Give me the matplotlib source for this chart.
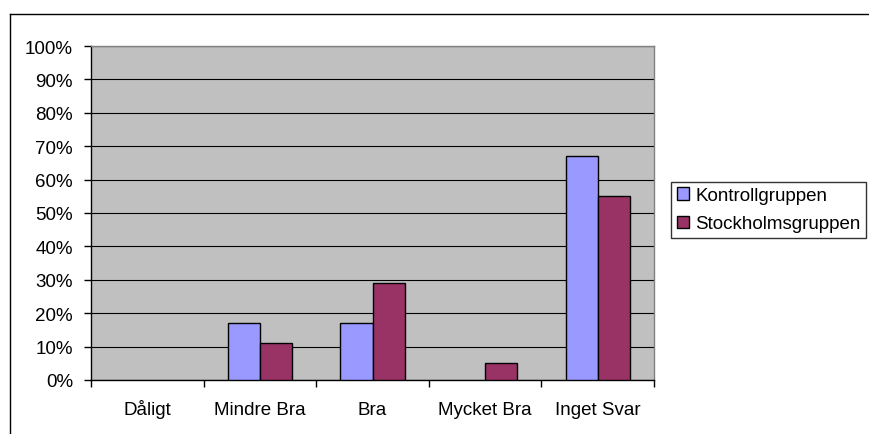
import matplotlib
matplotlib.use("Agg")
import matplotlib.pyplot as plt
import numpy as np
from matplotlib.lines import Line2D
from matplotlib.patches import Patch

categories = ["Dåligt", "Mindre Bra", "Bra", "Mycket Bra", "Inget Svar"]
kontroll = [0, 17, 17, 0, 67]
stockholm = [0, 11, 29, 5, 55]
series_names = ["Kontrollgruppen", "Stockholmsgruppen"]
yticks = [0, 10, 20, 30, 40, 50, 60, 70, 80, 90, 100]

plt.rcParams['font.family'] = ['Liberation Sans', 'DejaVu Sans']
FS = 13.5

W, H = 869, 435
fig = plt.figure(figsize=(W / 100, H / 100), dpi=100)

# plot area in pixels
x0, x1 = 91, 654
y0, y1 = 47, 381
ax = fig.add_axes([x0 / W, 1 - y1 / H, (x1 - x0) / W, (y1 - y0) / H])
ax.set_facecolor("#C0C0C0")

n = len(categories)
x = np.arange(n)
bw = 1 / 3.5
c1, c2 = "#9999FF", "#993366"
ax.bar(x - bw / 2, kontroll, bw, color=c1, edgecolor="black",
       linewidth=[0 if v == 0 else 1 for v in kontroll], zorder=3)
ax.bar(x + bw / 2, stockholm, bw, color=c2, edgecolor="black",
       linewidth=[0 if v == 0 else 1 for v in stockholm], zorder=3)

ax.set_xlim(-0.5, n - 0.5)
ax.set_ylim(0, 100)
ax.set_yticks(yticks)
ax.set_yticklabels([f"{v}%" for v in yticks], fontsize=FS)
ax.yaxis.grid(True, color="black", linewidth=0.8, zorder=0)
ax.set_axisbelow(True)

ax.set_xticks(x)
ax.set_xticklabels(categories, fontsize=FS)
ax.tick_params(axis="x", length=0, pad=24.5)
for lab in ax.get_xticklabels():
    lab.set_verticalalignment("baseline")
ax.set_xticks(np.arange(-0.5, n, 1), minor=True)
ax.tick_params(axis="x", which="minor", length=5, direction="out", width=1)
ax.tick_params(axis="y", length=5, direction="out", width=1, pad=8)

for s in ["top", "right"]:
    ax.spines[s].set_color("#808080")
    ax.spines[s].set_linewidth(1)
for s in ["left", "bottom"]:
    ax.spines[s].set_color("black")
    ax.spines[s].set_linewidth(1)

handles = [Patch(facecolor=c1, edgecolor="black"), Patch(facecolor=c2, edgecolor="black")]
leg = fig.legend(handles, series_names, loc="upper left",
                 bbox_to_anchor=(671 / W, 1 - 182.5 / H), fontsize=FS,
                 frameon=True, fancybox=False, shadow=False,
                 handlelength=0.65, handleheight=0.65, handletextpad=0.35,
                 borderpad=0.3, labelspacing=0.6, borderaxespad=0)
leg.get_frame().set_edgecolor("black")
leg.get_frame().set_linewidth(1)

# chart area border (top and left visible)
fig.add_artist(Line2D([9.5 / W, 9.5 / W], [0, 1 - 15 / H], color="black", linewidth=1,
                      transform=fig.transFigure))
fig.add_artist(Line2D([9.5 / W, 1], [1 - 15 / H, 1 - 15 / H], color="black", linewidth=1,
                      transform=fig.transFigure))

fig.savefig("out.png", dpi=100)
